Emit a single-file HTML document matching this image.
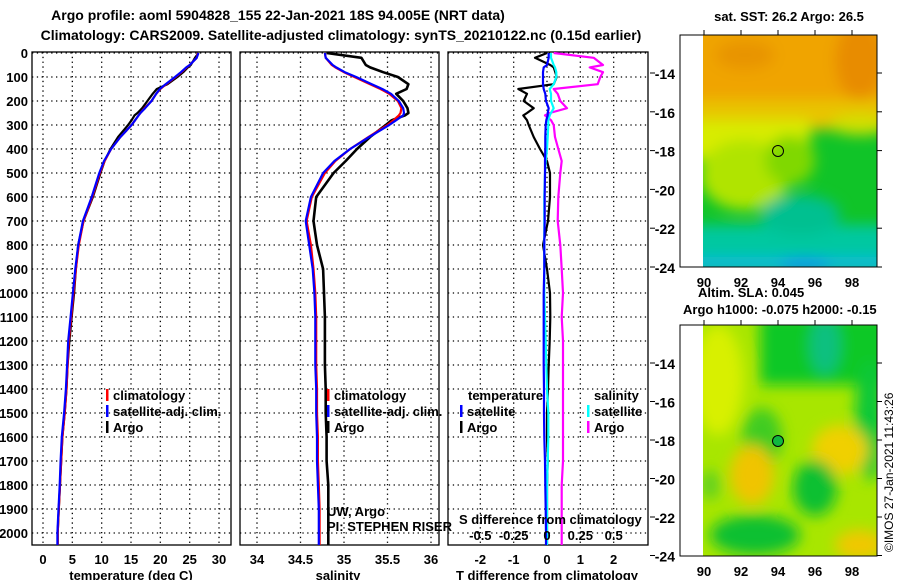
<!DOCTYPE html>
<html><head><meta charset="utf-8"><style>
html,body{margin:0;padding:0;background:#fff;}
svg{display:block;font-family:"Liberation Sans",sans-serif;}
.b{font-weight:bold;font-size:13px;fill:#000;}
.t{font-weight:bold;font-size:14px;fill:#000;}
</style></head><body>
<svg id="chart" width="900" height="580" viewBox="0 0 900 580" xmlns="http://www.w3.org/2000/svg">
<defs>
<filter id="blr" x="-20%" y="-20%" width="140%" height="140%"><feGaussianBlur stdDeviation="7"/></filter>
<clipPath id="c1"><rect x="703" y="35" width="174" height="232"/></clipPath>
<clipPath id="c2"><rect x="703" y="325" width="174" height="231"/></clipPath>
</defs>
<text class="t" x="278" y="20" text-anchor="middle">Argo profile: aoml 5904828_155 22-Jan-2021 18S 94.005E (NRT data)</text>
<text class="t" x="341" y="40" text-anchor="middle">Climatology: CARS2009. Satellite-adjusted climatology: synTS_20210122.nc (0.15d earlier)</text>

<g id="p1"></g>
<g id="p2"></g>
<g id="p3"></g>

<!-- SST map -->
<g>
<text class="b" x="789" y="21" text-anchor="middle">sat. SST: 26.2 Argo: 26.5</text>
<g clip-path="url(#c1)">
<rect x="703" y="35" width="174" height="232" fill="#10c428"/>
<g filter="url(#blr)">
<rect x="690" y="20" width="200" height="95" fill="#f0a400"/>
<rect x="690" y="100" width="200" height="30" fill="#e8c400"/>
<rect x="690" y="120" width="120" height="40" fill="#d8ec00"/>
<ellipse cx="745" cy="175" rx="45" ry="35" fill="#b0e400"/>
<ellipse cx="790" cy="160" rx="25" ry="25" fill="#80d800"/>
<ellipse cx="860" cy="60" rx="25" ry="40" fill="#e88c00"/>
<ellipse cx="745" cy="55" rx="30" ry="15" fill="#e89400"/>
<ellipse cx="860" cy="125" rx="30" ry="10" fill="#d0e000"/>
<rect x="690" y="225" width="200" height="50" fill="#00c8a0"/>
<ellipse cx="800" cy="215" rx="40" ry="20" fill="#00c090"/>
<rect x="690" y="257" width="200" height="15" fill="#10b8d8"/>
<ellipse cx="805" cy="265" rx="25" ry="6" fill="#1090f0"/>
</g>
</g>
<rect x="680" y="35" width="197" height="232" fill="none" stroke="#000" stroke-width="1"/>
<circle cx="778" cy="151" r="5.5" fill="none" stroke="#000" stroke-width="1"/>
<g id="m1ax"></g>
</g>

<!-- SLA map -->
<g>
<text class="b" x="698" y="297">Altim. SLA: 0.045</text>
<text class="b" x="683" y="314">Argo h1000: -0.075 h2000: -0.15</text>
<g clip-path="url(#c2)">
<rect x="703" y="325" width="174" height="231" fill="#a8e600"/>
<g filter="url(#blr)">
<rect x="760" y="315" width="130" height="70" fill="#10c828"/>
<ellipse cx="825" cy="345" rx="15" ry="30" fill="#10c080"/>
<ellipse cx="718" cy="380" rx="25" ry="55" fill="#d8f000"/>
<ellipse cx="870" cy="420" rx="15" ry="60" fill="#10c838"/>
<ellipse cx="762" cy="438" rx="20" ry="30" fill="#40cc20"/>
<ellipse cx="752" cy="475" rx="22" ry="30" fill="#f0c400"/>
<ellipse cx="840" cy="450" rx="28" ry="25" fill="#f0d000"/>
<ellipse cx="815" cy="488" rx="22" ry="28" fill="#10c030"/>
<ellipse cx="755" cy="535" rx="45" ry="20" fill="#10c030"/>
<ellipse cx="860" cy="545" rx="25" ry="15" fill="#f0c800"/>
<ellipse cx="710" cy="485" rx="10" ry="15" fill="#60d020"/>
</g>
</g>
<rect x="680" y="325" width="197" height="231" fill="none" stroke="#000" stroke-width="1"/>
<circle cx="778" cy="441" r="5.5" fill="#10b840" stroke="#000" stroke-width="1"/>
<g id="m2ax"></g>
</g>
<text x="893" y="552" font-size="12" transform="rotate(-90 893 552)" fill="#000">©IMOS 27-Jan-2021 11:43:26</text>
</svg>
<script>
// ---- data ----
const depths=[0,20,50,60,80,100,130,150,170,200,230,250,260,280,300,350,400,450,500,600,700,800,900,1000,1100,1200,1300,1400,1500,1600,1700,1800,1900,2000,2050];
const tempClim=[26.4,26.2,25,24.5,23.6,22.6,21,20,19.3,18.5,17.3,16.6,16.3,15.7,15.1,13.2,11.6,10.5,9.7,8.4,6.9,6.1,5.6,5.2,4.8,4.4,4.2,4.0,3.7,3.3,3.1,2.9,2.7,2.5,2.5];
const tempSat=[26.5,26.2,25,24.4,23.5,22.5,20.9,19.9,19.3,18.5,17.4,16.6,16.3,15.7,15.1,13.2,11.6,10.4,9.6,8.3,6.8,6.0,5.5,5.1,4.7,4.3,4.1,3.9,3.6,3.2,3.0,2.85,2.65,2.45,2.45];
const tempArgo=[26.5,25.9,25.2,24.7,23.9,22.9,21.2,19.4,18.7,17.8,16.9,16.1,15.6,15.1,14.5,12.8,11.5,10.5,9.8,8.5,6.9,6.0,5.6,5.3,4.9,4.5,4.2,4.0,3.7,3.3,3.1,2.9,2.7,2.5,2.5];
const salClim=[34.78,34.79,34.86,34.9,35.0,35.12,35.3,35.42,35.52,35.62,35.66,35.65,35.63,35.57,35.5,35.28,35.07,34.9,34.78,34.63,34.57,34.62,34.65,34.67,34.68,34.68,34.68,34.69,34.69,34.7,34.7,34.71,34.72,34.72,34.72];
const salSat=[34.78,34.79,34.87,34.91,35.01,35.14,35.32,35.44,35.54,35.63,35.68,35.69,35.68,35.6,35.52,35.29,35.07,34.89,34.76,34.62,34.56,34.6,34.64,34.66,34.67,34.67,34.67,34.68,34.68,34.69,34.69,34.7,34.71,34.71,34.71];
const salArgo=[34.8,35.2,35.25,35.3,35.45,35.62,35.74,35.72,35.6,35.68,35.73,35.74,35.7,35.55,35.48,35.3,35.15,35.02,34.88,34.68,34.65,34.69,34.76,34.77,34.78,34.78,34.78,34.79,34.79,34.8,34.8,34.82,34.82,34.82,34.82];
const dTArgo=[0,-0.36,0.1,0.2,0.25,0.29,0.2,-0.86,-0.6,-0.7,-0.4,-0.6,-0.71,-0.6,-0.55,-0.4,-0.21,0,0.09,0.09,0.03,-0.12,0,0.09,0.1,0.08,0.05,0.03,0,0,0.02,0,0,0,0];
const dTSat=[0.05,0.05,0,-0.1,-0.12,-0.12,-0.12,-0.1,-0.05,-0.03,0.05,0.02,0.02,-0.02,-0.04,-0.05,-0.05,-0.06,-0.06,-0.07,-0.07,-0.08,-0.08,-0.1,-0.1,-0.1,-0.1,-0.09,-0.09,-0.08,-0.06,-0.05,-0.04,-0.03,-0.03];
const dSArgo=[0.05,0.35,0.42,0.32,0.42,0.4,0.38,0.05,0.08,0.1,0.15,0.02,-0.015,0.03,0.05,0.06,0.085,0.11,0.1,0.085,0.08,0.1,0.11,0.12,0.11,0.12,0.12,0.12,0.12,0.12,0.12,0.11,0.11,0.11,0.11];
const dSSat=[0.03,0.03,0.05,0.06,0.07,0.07,0.05,0.02,0.03,0.03,0.05,0.03,0.02,0.01,0.01,0.005,0,-0.01,-0.015,-0.02,-0.02,-0.02,-0.02,-0.02,-0.015,-0.01,-0.005,0,0.01,0.01,0.005,0,0,0,0];
const depthTicks=[0,100,200,300,400,500,600,700,800,900,1000,1100,1200,1300,1400,1500,1600,1700,1800,1900,2000];
const tempTicks=[0,5,10,15,20,25,30];
const salTicks=[34,34.5,35,35.5,36];
const dTTicks=[-2,-1,0,1,2];
const dSTicks=[-0.5,-0.25,0,0.25,0.5];
const dSTickLabels=["-0.5","-0.25","0","0.25","0.5"];
const lonTicks=[90,92,94,96,98];
const latTicks=[-14,-16,-18,-20,-22,-24];

// ---- axes ----
const NS="http://www.w3.org/2000/svg";
const yD=d=>53+0.24*d;
const xT=t=>43+t*5.867;
const xS=s=>257+(s-34)*87;
const xDT=t=>547+t*33.33;
const xDS=s=>547+s*133.3;
const mx1=lon=>704+(lon-90)*18.5;
const my1=lat=>73+(-14-lat)*19.4;
const my2=lat=>363+(-14-lat)*19.25;
function mk(tag,parent,attrs){const e=document.createElementNS(NS,tag);for(const k in attrs)e.setAttribute(k,attrs[k]);parent.appendChild(e);return e;}

function frame(g,x0,x1,vx){
  for(const d of depthTicks){
    const l=mk('line',g,{x1:x0,x2:x1,y1:yD(d),y2:yD(d),stroke:'#000','stroke-dasharray':'1.3,3.5','stroke-width':1.3});
    
    
  }
  for(const x of vx){
    const l=mk('line',g,{x1:x,x2:x,y1:52,y2:545,stroke:'#000','stroke-dasharray':'1.3,3.5','stroke-width':1.3});
    
    
  }
  const r=mk('rect',g,{x:x0,y:52,width:x1-x0,height:493,fill:'none',stroke:'#000','stroke-width':1.3});
  
  
}
function line(g,xs,xf,color,name,w){
  const pts=depths.map((d,i)=>xf(xs[i]).toFixed(1)+','+yD(d).toFixed(1)).join(' ');
  const p=mk('polyline',g,{points:pts,fill:'none',stroke:color,'stroke-width':w||2.2,'stroke-linejoin':'round'});
  
  
}
function txt(g,x,y,s,cls,anchor,name,extra){
  const t=mk('text',g,Object.assign({x:x,y:y,class:cls||'b','text-anchor':anchor||'start'},extra||{}));
  t.textContent=s;
  
  
  return t;
}
function legend(g,x,y,color,label,name){
  const r=mk('rect',g,{x:x,y:y-6,width:2.5,height:12,fill:color});
  
  
  txt(g,x+7,y+5,label,'b','start',name+'-label');
}

// Y labels
const svg=document.getElementById('chart');
for(const d of depthTicks) txt(svg,28,yD(d)+5,String(d),'b','end','depth-tick-label');

// Panel 1
const p1=document.getElementById('p1');
frame(p1,32,231,tempTicks.map(xT));
line(p1,tempArgo,xT,'#000','temperature-argo-line');
line(p1,tempClim,xT,'#f00','temperature-climatology-line');
line(p1,tempSat,xT,'#00f','temperature-satellite-line');
for(const t of tempTicks) txt(p1,xT(t),564,String(t),'b','middle','temperature-tick-label');
txt(p1,131,580,'temperature (deg C)','b','middle','temperature-axis-title');
legend(p1,106,395,'#f00','climatology','legend-climatology');
legend(p1,106,411,'#00f','satellite-adj. clim.','legend-satellite');
legend(p1,106,427,'#000','Argo','legend-argo');

// Panel 2
const p2=document.getElementById('p2');
frame(p2,240,439,salTicks.map(xS));
line(p2,salArgo,xS,'#000','salinity-argo-line',2.6);
line(p2,salClim,xS,'#f00','salinity-climatology-line');
line(p2,salSat,xS,'#00f','salinity-satellite-line');
for(const s of salTicks) txt(p2,xS(s),564,String(s),'b','middle','salinity-tick-label');
txt(p2,338,580,'salinity','b','middle','salinity-axis-title');
legend(p2,327,395,'#f00','climatology','legend-sal-climatology');
legend(p2,327,411,'#00f','satellite-adj. clim.','legend-sal-satellite');
legend(p2,327,427,'#000','Argo','legend-sal-argo');
txt(p2,327,516,'UW, Argo','', 'start','data-source-label',{'font-size':12,fill:'#333'});
txt(p2,327,531,'PI: STEPHEN RISER','', 'start','pi-label',{'font-size':12,fill:'#333'});

// Panel 3
const p3=document.getElementById('p3');
frame(p3,448,648,dTTicks.map(xDT));
line(p3,dTArgo,xDT,'#000','t-diff-argo-line');
line(p3,dSArgo,xDS,'#f0f','s-diff-argo-line');
line(p3,dSSat,xDS,'#0ff','s-diff-satellite-line');
line(p3,dTSat,xDT,'#00f','t-diff-satellite-line');
for(const t of dTTicks) txt(p3,xDT(t),564,String(t),'b','middle','t-diff-tick-label');
dSTicks.forEach((s,i)=>txt(p3,xDS(s),540,dSTickLabels[i],'b','middle','s-diff-tick-label'));
txt(p3,459,524,'S difference from climatology','b','start','s-diff-axis-title');
txt(p3,547,580,'T difference from climatology','b','middle','t-diff-axis-title');
txt(p3,468,400,'temperature','b','start','legend-temperature-heading');
txt(p3,594,400,'salinity','b','start','legend-salinity-heading');
legend(p3,460,411,'#00f','satellite','legend-t-satellite');
legend(p3,460,427,'#000','Argo','legend-t-argo');
legend(p3,587,411,'#0ff','satellite','legend-s-satellite');
legend(p3,587,427,'#f0f','Argo','legend-s-argo');

// Map axes
function mapAxes(g,top,bottom,myf,showLon){
  for(const lon of lonTicks){
    mk('line',g,{x1:mx1(lon),x2:mx1(lon),y1:top-5,y2:top,stroke:'#000'});
    if(showLon) txt(g,mx1(lon),bottom+20,String(lon),'b','middle','longitude-tick-label');
  }
  for(const lat of latTicks){
    const y=myf(lat);
    mk('line',g,{x1:877,x2:882,y1:y,y2:y,stroke:'#000'});
    mk('line',g,{x1:650,x2:655,y1:y,y2:y,stroke:'#000'});
    txt(g,675,y+6,String(lat),'t','end','latitude-tick-label');
  }
}
mapAxes(document.getElementById('m1ax'),35,267,my1,true);
mapAxes(document.getElementById('m2ax'),325,556,my2,true);
</script>
</body></html>
